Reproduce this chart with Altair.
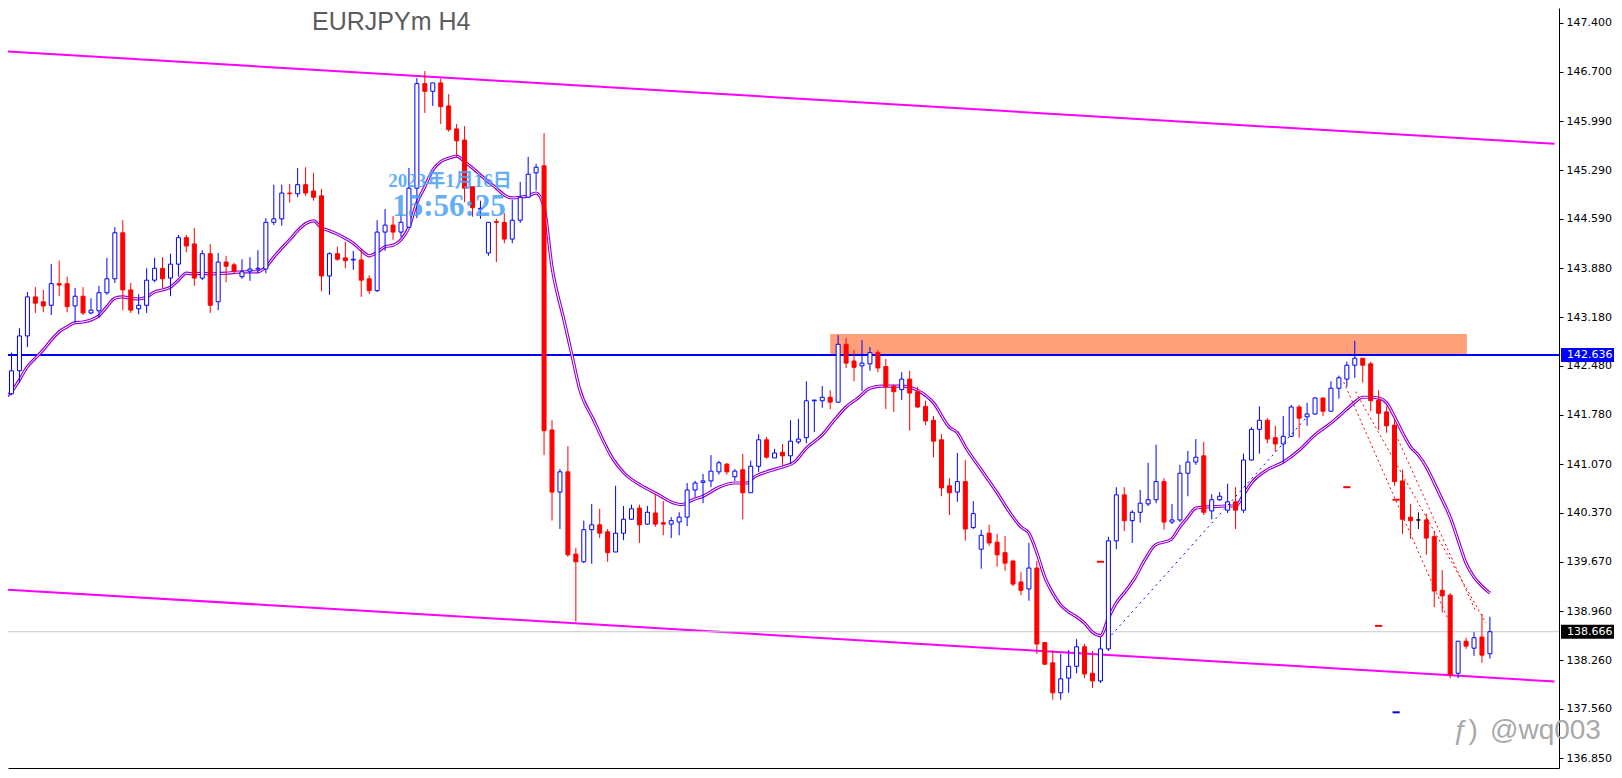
import altair as alt
import pandas as pd

# ---------------- data ----------------
opens = [142.08,142.41,142.91,143.47,143.40,143.35,143.66,143.66,143.34,143.48,
         143.24,143.27,143.53,143.73,144.39,143.57,143.30,143.35,143.71,143.88,
         143.74,143.94,144.32,144.23,143.74,144.09,143.40,143.97,143.93,143.76,
         143.84,143.87,143.87,144.54,144.59,144.96,144.95,145.08,144.99,144.92,
         143.77,144.09,144.03,144.00,144.00,143.73,143.56,144.40,144.50,144.40,
         144.47,145.03,146.53,146.42,146.54,146.21,145.88,145.72,145.05,144.73,
         144.10,144.55,144.54,144.30,144.57,144.90,145.25,145.35,141.56,140.67,
         140.96,139.78,139.67,140.13,140.20,140.10,139.81,140.08,140.28,140.44,
         140.21,140.37,140.23,140.21,140.24,140.31,140.70,140.81,140.83,140.96,
         141.07,140.89,140.99,140.66,141.04,141.42,141.16,141.24,141.19,141.39,
         141.45,141.98,141.98,142.03,141.96,142.79,142.55,142.48,142.51,142.67,
         142.47,142.19,142.14,142.29,142.11,141.90,141.70,141.42,140.76,140.67,
         140.82,140.16,139.85,140.08,139.95,139.80,139.68,139.38,139.28,139.58,
         138.51,138.22,137.79,138.00,138.17,138.45,138.07,137.96,138.42,139.97,
         140.63,140.26,140.38,140.50,140.56,140.82,140.24,140.27,140.94,141.10,
         141.19,140.40,140.56,140.41,140.53,140.41,141.13,141.57,141.70,141.45,
         141.36,141.47,141.89,141.75,141.79,142.02,141.83,142.16,142.29,142.49,
         142.59,142.51,141.99,141.82,141.63,140.83,140.31,140.27,140.27,140.03,
         139.26,139.19,138.07,138.53,138.43,138.59,138.35]
highs = [142.67,143.02,143.54,143.61,143.57,143.94,143.99,143.76,143.60,143.61,
         143.45,143.63,144.03,144.47,144.57,143.67,143.51,143.88,144.03,144.04,
         144.09,144.36,144.36,144.46,144.14,144.23,144.10,144.06,143.96,144.01,
         144.04,144.14,144.60,145.08,145.08,145.09,145.32,145.33,145.25,145.02,
         144.11,144.19,144.26,144.13,144.16,143.78,144.57,144.73,144.63,144.66,
         145.32,146.61,146.71,146.54,146.60,146.38,145.95,145.92,145.05,144.85,
         144.54,144.59,144.67,144.86,145.12,145.48,145.38,145.82,141.70,141.00,
         141.33,139.87,140.26,140.50,140.43,140.14,140.76,140.47,140.49,140.49,
         140.47,140.64,140.54,140.31,140.38,140.80,140.83,140.93,141.20,141.12,
         141.09,141.00,141.22,141.12,141.50,141.46,141.29,141.36,141.70,141.72,
         142.26,141.99,142.19,142.13,142.92,142.88,142.71,142.85,142.75,142.71,
         142.58,142.21,142.39,142.41,142.18,141.98,141.76,141.50,140.87,141.23,
         141.13,140.54,140.13,140.20,140.07,140.04,139.70,139.52,139.94,139.68,
         138.52,138.40,138.35,138.40,138.56,138.49,138.39,138.59,140.03,140.74,
         140.74,140.41,140.70,141.09,141.35,140.87,140.50,141.06,141.26,141.43,
         141.39,140.64,140.67,140.79,140.74,141.22,141.60,141.90,141.73,141.62,
         141.76,141.92,141.92,141.95,142.03,142.02,142.26,142.34,142.54,142.84,
         142.59,142.54,142.13,141.90,141.72,140.99,140.50,140.38,140.36,140.11,
         139.55,139.22,138.53,138.58,138.66,138.92,138.88]
lows = [142.06,142.24,142.75,143.24,143.25,143.21,143.48,143.25,143.10,143.21,
        143.22,143.17,143.50,143.67,143.28,143.24,143.22,143.24,143.68,143.60,
        143.48,143.76,144.11,143.63,143.71,143.24,143.28,143.68,143.80,143.73,
        143.70,143.81,143.81,144.50,144.49,144.82,144.90,144.92,144.85,143.55,
        143.50,143.99,143.88,143.86,143.47,143.51,143.54,144.13,144.29,144.33,
        144.46,144.60,146.11,146.21,145.95,145.84,145.48,144.83,144.62,144.59,
        144.06,143.97,144.24,144.24,144.53,144.89,145.00,141.20,140.26,140.14,
        139.74,138.81,139.65,139.64,140.01,139.67,139.81,139.98,140.27,139.94,
        140.20,140.17,140.05,140.01,140.05,140.18,140.60,140.51,140.74,140.92,
        140.92,140.83,140.28,140.66,140.96,141.15,141.16,141.06,141.07,141.36,
        141.37,141.53,141.88,141.86,141.95,142.45,142.26,142.12,142.41,142.39,
        141.86,141.82,141.99,141.55,141.88,141.63,141.17,140.61,140.34,140.53,
        139.97,140.14,139.57,139.90,139.60,139.54,139.32,139.19,139.11,138.35,
        138.19,137.69,137.69,137.79,138.07,138.00,137.86,137.93,138.39,139.85,
        140.11,139.94,140.23,140.47,140.51,140.13,140.21,140.24,140.61,141.06,
        140.34,140.28,140.54,140.37,140.14,140.37,141.12,141.22,141.37,141.25,
        141.09,141.46,141.45,141.62,141.78,141.76,141.83,142.01,142.18,142.31,
        142.24,141.83,141.56,141.52,140.76,140.07,140.00,140.14,139.77,139.02,
        138.94,138.00,138.00,138.42,138.32,138.22,138.28]
closes = [142.41,142.91,143.47,143.38,143.34,143.66,143.64,143.33,143.48,143.24,
          143.28,143.53,143.73,144.39,143.57,143.28,143.35,143.71,143.88,143.73,
          143.94,144.32,144.20,143.74,144.09,143.35,143.97,143.91,143.84,143.83,
          143.87,143.88,144.54,144.59,144.96,144.95,145.08,144.96,144.90,143.77,
          144.09,144.01,143.99,144.01,143.71,143.56,144.40,144.50,144.40,144.54,
          145.03,146.53,146.42,146.54,146.20,145.87,145.71,145.03,144.75,144.74,
          144.54,144.54,144.30,144.57,144.90,145.23,145.33,141.55,140.67,140.96,
          139.77,139.67,140.13,140.20,140.08,139.80,140.08,140.28,140.43,140.20,
          140.38,140.21,140.21,140.26,140.31,140.70,140.80,140.83,140.97,141.09,
          140.96,140.97,140.66,141.04,141.42,141.17,141.23,141.19,141.40,141.43,
          141.98,141.99,142.03,141.96,142.79,142.52,142.46,142.52,142.67,142.45,
          142.18,142.11,142.29,142.09,141.89,141.69,141.40,140.73,140.66,140.82,
          140.14,140.36,140.05,139.94,139.77,139.65,139.35,139.26,139.58,138.49,
          138.20,137.79,137.99,138.17,138.45,138.06,137.96,138.42,139.97,140.63,
          140.26,140.38,140.51,140.56,140.82,140.24,140.27,140.94,141.10,141.17,
          140.38,140.56,140.61,140.53,140.41,141.13,141.57,141.70,141.43,141.36,
          141.47,141.89,141.73,141.79,142.02,141.83,142.16,142.31,142.49,142.59,
          142.49,141.98,141.80,141.62,140.82,140.28,140.26,140.27,140.01,139.25,
          139.18,138.05,138.53,138.46,138.58,138.33,138.666]

ma_idx = [-0.75,0,1,2,3,4,5,6,7,8,9,10,11,12,13,14,15,16,17,18,19,20,21,22,23,24,25,27,29,31,
          32,33,34,35,36,37,38,39,40,41,42,43,44,45,46,47,48,49,50,51,52,53,54,55,56,57,58,59,
          60,61,62,63,64,65,66,67,68,69.5,70.5,71.4,73.25,75.75,77.1,79.6,81.4,83.4,84.25,85.75,
          87,89,91,92.5,93.5,95,97,98.5,100,102,103.5,105,106.5,108,109.5,112,114,116,118,119,
          120,122,124,126,127,128,129,130,131,132,133,134,135,136,137,138,139,140.1,141.4,142.6,
          143.9,145.9,147,148,149,151,153,154,155,156,158,160,162,164,166,168,169,170,171,172,
          173,174,175,176,177,178,179,180,181,182,183,184,185.1,186]
ma_val = [142.03,142.11,142.28,142.47,142.59,142.71,142.85,142.97,143.04,143.10,143.11,143.14,
          143.20,143.33,143.45,143.47,143.45,143.44,143.47,143.54,143.57,143.61,143.71,143.81,
          143.80,143.81,143.80,143.81,143.83,143.83,143.90,144.04,144.17,144.29,144.42,144.52,
          144.56,144.46,144.42,144.37,144.31,144.24,144.14,144.06,144.11,144.19,144.21,144.29,
          144.47,144.82,145.05,145.29,145.41,145.46,145.49,145.41,145.32,145.22,145.12,145.03,
          144.93,144.89,144.90,144.92,144.96,144.76,143.90,143.14,142.64,142.18,141.70,141.13,
          140.94,140.74,140.63,140.51,140.49,140.56,140.61,140.74,140.80,140.80,140.89,140.96,
          141.03,141.10,141.30,141.49,141.70,141.89,142.02,142.16,142.19,142.19,142.13,141.95,
          141.60,141.52,141.32,140.99,140.66,140.31,140.17,140.08,139.80,139.45,139.22,139.05,
          138.95,138.88,138.79,138.66,138.61,138.86,139.08,139.24,139.45,139.70,139.91,139.99,
          140.17,140.31,140.44,140.46,140.47,140.47,140.63,140.80,140.99,141.10,141.27,141.49,
          141.66,141.86,141.96,142.03,142.03,142.02,141.95,141.75,141.52,141.32,141.20,141.03,
          140.80,140.56,140.31,139.98,139.65,139.45,139.31,139.22]

channel_idx = [-0.75, 194.125]
upper_channel = [146.993, 145.667]
lower_channel = [139.272, 137.952]

zone_idx = [103, 183.1]
zone_price = [142.636, 142.938]

level_price = 142.636
bid_price = 138.666

axis_values = [147.400, 146.700, 145.990, 145.290, 144.590, 143.880, 143.180, 142.480,
               141.780, 141.070, 140.370, 139.670, 138.960, 138.260, 137.560, 136.850]

blue_trade_idx = [138.4, 163.0]
blue_trade_price = [138.62, 141.75]
red_trade_id = ["a", "a", "b", "b", "c", "c"]
red_trade_idx = [167.6, 180.75, 169.1, 185.5, 173.9, 184.25]
red_trade_price = [142.25, 138.84, 142.11, 138.79, 141.56, 138.95]

dash_idx = [168, 174.2, 172, 137, 174.2]
dash_price = [140.74, 140.56, 138.75, 139.67, 137.51]
dash_color = ["#FF0000", "#FF0000", "#FF0000", "#FF0000", "#0000FF"]

# ---------------- tables ----------------
n = len(opens)
cd = pd.DataFrame({"idx": list(range(n)), "o": opens, "h": highs, "l": lows, "c": closes})
cd["top"] = cd[["o", "c"]].max(axis=1)
cd["bot"] = cd[["o", "c"]].min(axis=1)
cd["dir"] = ["up" if c > o else ("down" if c < o else "flat") for o, c in zip(opens, closes)]

ma = pd.DataFrame({"idx": ma_idx, "v": ma_val})
chan = pd.DataFrame({"idx": channel_idx * 2, "v": upper_channel + lower_channel,
                     "name": ["u", "u", "l", "l"]})
zone = pd.DataFrame({"x0": [zone_idx[0]], "x1": [zone_idx[1]], "p0": [zone_price[0]], "p1": [zone_price[1]]})
bt = pd.DataFrame({"idx": blue_trade_idx, "v": blue_trade_price})
rt = pd.DataFrame({"idx": red_trade_idx, "v": red_trade_price, "id": red_trade_id})
dash = pd.DataFrame({"x0": [i - 0.45 for i in dash_idx], "x1": [i + 0.45 for i in dash_idx],
                     "v": dash_price, "col": dash_color})
tags = pd.DataFrame({"v": [level_price, bid_price],
                     "label": [f"{level_price:.3f}", f"{bid_price:.3f}"],
                     "bg": ["#0000FF", "#000000"]})
tags["vt"] = tags["v"] + 0.1
tags["vb"] = tags["v"] - 0.1

xscale = alt.Scale(domain=[0.1875, 194.0625], zero=False, nice=False)
yscale = alt.Scale(domain=[136.711, 147.615], zero=False, nice=False)
xaxis = alt.Axis(orient="bottom", labels=False, ticks=False, grid=False, title=None,
                 domainColor="black", domainWidth=1)
yaxis = alt.Axis(orient="right", values=axis_values, format=".3f", labelFont="DejaVu Sans",
                 labelFontSize=11, labelColor="black", tickColor="black", tickSize=4,
                 domainColor="black", domainWidth=1, labelPadding=3, grid=False, title=None,
                 labelOverlap=False, labelFlush=False, zindex=0)


def X(f):
    return alt.X(f, type="quantitative", scale=xscale, axis=xaxis)


def Y(f):
    return alt.Y(f, type="quantitative", scale=yscale, axis=yaxis)


col_scale = alt.Scale(domain=["up", "down", "flat"], range=["#0000FF", "#FF0000", "#000000"])
fill_scale = alt.Scale(domain=["up", "down", "flat"], range=["#FFFFFF", "#FF0000", "#FFFFFF"])

zone_l = alt.Chart(zone).mark_rect(color="#FFA07A").encode(x=X("x0"), x2="x1", y=Y("p0"), y2="p1")
chan_l = alt.Chart(chan).mark_line(color="#FF00FF", strokeWidth=2).encode(
    x=X("idx"), y=Y("v"), detail="name:N")
level_l = alt.Chart(pd.DataFrame({"v": [level_price]})).mark_rule(
    color="#0000FF", strokeWidth=2).encode(y=Y("v"))
bid_l = alt.Chart(pd.DataFrame({"v": [bid_price]})).mark_rule(
    color="#C8C8C8", strokeWidth=1).encode(y=Y("v"))
ma_outer = alt.Chart(ma).mark_line(color="#9400D3", strokeWidth=3.2, interpolate="monotone").encode(
    x=X("idx"), y=Y("v"))
ma_inner = alt.Chart(ma).mark_line(color="#FFFFFF", strokeWidth=1, interpolate="monotone").encode(
    x=X("idx"), y=Y("v"))
wick = alt.Chart(cd).mark_rule(strokeWidth=1).encode(
    x=X("idx"), y=Y("l"), y2="h", color=alt.Color("dir:N", scale=col_scale, legend=None))
body = alt.Chart(cd).mark_bar(size=4, strokeWidth=1).encode(
    x=X("idx"), y=Y("top"), y2="bot",
    fill=alt.Fill("dir:N", scale=fill_scale, legend=None),
    stroke=alt.Stroke("dir:N", scale=col_scale, legend=None))
bt_l = alt.Chart(bt).mark_line(color="#0000FF", strokeWidth=1, strokeDash=[2, 4]).encode(
    x=X("idx"), y=Y("v"))
rt_l = alt.Chart(rt).mark_line(color="#FF0000", strokeWidth=1, strokeDash=[2, 3]).encode(
    x=X("idx"), y=Y("v"), detail="id:N")
dash_l = alt.Chart(dash).mark_rule(strokeWidth=2).encode(
    x=X("x0"), x2="x1", y=Y("v"), color=alt.Color("col:N", scale=None))
tag_box = alt.Chart(tags).mark_rect().encode(
    x=alt.value(1553), x2=alt.value(1606), y=Y("vt"), y2="vb",
    color=alt.Color("bg:N", scale=None))
tag_txt = alt.Chart(tags).mark_text(align="left", baseline="middle", font="DejaVu Sans",
                                    fontSize=11, color="white").encode(
    x=alt.value(1559), y=Y("v"), text="label:N")

one = pd.DataFrame({"t": ["EURJPYm H4"]})
title_l = alt.Chart(one).mark_text(align="left", baseline="alphabetic", font="Liberation Sans",
                                   fontSize=25, color="#5C5C5C").encode(
    x=alt.value(304), y=alt.value(22), text="t:N")
date_l = alt.Chart(pd.DataFrame({"t": ["2023年1月16日"]})).mark_text(
    align="center", baseline="alphabetic", font="Liberation Serif, Noto Sans CJK SC",
    fontSize=19, fontWeight="bold", color="#4AA0F5", opacity=0.85).encode(
    x=alt.value(442), y=alt.value(179), text="t:N")
time_l = alt.Chart(pd.DataFrame({"t": ["15:56:25"]})).mark_text(
    align="center", baseline="alphabetic", font="Liberation Serif",
    fontSize=31, fontWeight="bold", color="#4AA0F5", opacity=0.85).encode(
    x=alt.value(441), y=alt.value(208), text="t:N")
logo_l = alt.Chart(pd.DataFrame({"t": ["ƒ)"]})).mark_text(
    align="left", baseline="middle", font="Liberation Sans", fontSize=28,
    color="#A8A8A8").encode(x=alt.value(1445), y=alt.value(723), text="t:N")
wm_l = alt.Chart(pd.DataFrame({"t": ["@wq003"]})).mark_text(
    align="left", baseline="middle", font="Liberation Sans", fontSize=28,
    color="#A8A8A8").encode(x=alt.value(1482), y=alt.value(723), text="t:N")

chart = alt.layer(
    zone_l, chan_l, level_l, bid_l, ma_outer, ma_inner, wick, body, bt_l, rt_l, dash_l,
    tag_box, tag_txt, title_l, date_l, time_l, logo_l, wm_l
).properties(
    width=1551, height=760,
    padding={"left": 0, "top": 0, "right": 55, "bottom": 1},
    autosize=alt.AutoSizeParams(type="none"),
    background="white",
).configure_view(stroke=None)

chart.save("out.html", embed_options={"renderer": "svg", "actions": False})
